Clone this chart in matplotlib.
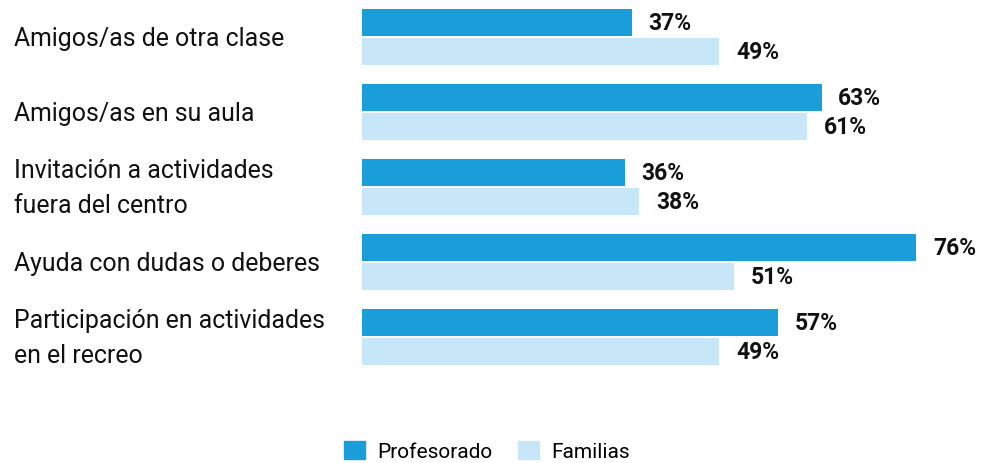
import matplotlib.pyplot as plt
from matplotlib.patches import Patch
import numpy as np

categorias = ["Amigos/as de otra clase", "Amigos/as en su aula",
              "Invitación a actividades\nfuera del centro",
              "Ayuda con dudas o deberes",
              "Participación en actividades\nen el recreo"]
profesorado = [37, 63, 36, 76, 57]
familias = [49, 61, 38, 51, 49]
series = ["Profesorado", "Familias"]

c_prof = "#1a9ed9"
c_fam = "#c7e6f8"

plt.rcParams['font.family'] = ['Roboto', 'DejaVu Sans']

fig = plt.figure(figsize=(9.84, 4.64), dpi=100)
ax = fig.add_axes([362 / 984, 0, 620 / 984, 1])

y = np.arange(len(categorias))
h = 0.36
off = 0.197
ax.barh(y - off, profesorado, height=h, color=c_prof)
ax.barh(y + off, familias, height=h, color=c_fam)

for yi, v in zip(y - off, profesorado):
    ax.text(v + 2.3, yi, f"{v}%", va="center", ha="left", fontsize=16.5,
            fontweight="bold", color="#111111")
for yi, v in zip(y + off, familias):
    ax.text(v + 2.3, yi, f"{v}%", va="center", ha="left", fontsize=16.5,
            fontweight="bold", color="#111111")

ax.set_xlim(0, 85)
ax.set_ylim(5.68, -0.507)
ax.axis("off")

# etiquetas de categoría a la izquierda
for yi, c in zip(y, categorias):
    ax.text(-348 / 7.3, yi + 0.01, c, ha="left", va="center", fontsize=17.9,
            color="#111111", linespacing=1.58)

handles = [Patch(color=c_prof), Patch(color=c_fam)]
fig.legend(handles, series, loc="center", bbox_to_anchor=(487 / 984, 1 - 452 / 464),
           ncol=2, frameon=False, fontsize=15, handlelength=1.0, handleheight=1.0,
           handletextpad=0.6, columnspacing=1.2, borderpad=0)

fig.savefig("out.png", dpi=100)
